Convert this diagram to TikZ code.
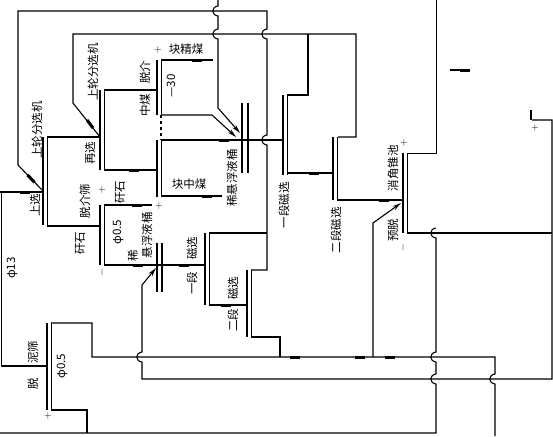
\documentclass[tikz,border=0pt]{standalone}
\usepackage{fontspec}
\newfontfamily\cjk{Noto Sans CJK SC}
\usetikzlibrary{arrows.meta}
% line jumps, bulging to the left
\newcommand\hopdn[2]{-- (#1,#2-5) .. controls (#1-7,#2-4) and (#1-7,#2+4) .. (#1,#2+5)}
\newcommand\hopup[2]{-- (#1,#2+5) .. controls (#1-7,#2+4) and (#1-7,#2-4) .. (#1,#2-5)}
% screen / separator symbol
\newcommand\sieve[3]{\draw[line width=1.7pt] (#1,#2) -- (#1,#3);
  \draw[line width=1pt] (#1+4,#2) -- (#1+4,#3);}
\newcommand\hmark[2]{\draw[line width=3pt,line cap=butt] (#1-5,#2) -- (#1+5,#2);}
\begin{document}
\begin{tikzpicture}[x=1pt,y=-1pt,line width=1.1pt,
  lbl/.style={rotate=90,inner sep=0pt,font=\cjk\fontsize{11.5}{12.5}\selectfont},
  flat/.style={inner sep=0pt,font=\cjk\fontsize{11.5}{12.5}\selectfont},
  sgn/.style={inner sep=0pt,font=\fontsize{10}{12}\selectfont},
  tip/.style={-{Stealth[length=9pt,width=4.5pt]}}]
\useasboundingbox (0,0) rectangle (553,436);

% upper separation
\sieve{43}{137}{225}
\draw (0,192) -- (43,192); \hmark{25}{192}
\draw (1.5,192) -- (1.5,366) -- (47,366);
\draw (251,270) -- (267,270) \hopup{267}{140} \hopup{267}{34} -- (267,11) -- (18,11) -- (18,165) -- (43,191);
\draw[line width=3pt] (27.5,175) -- (34.5,182.3);
\draw (209,233) -- (267,233);

% re-separation
\sieve{100}{90}{170}
\draw (47,137) -- (100,137);
\draw (100,137) -- (73,103) -- (73,34) -- (356,34) -- (356,137) -- (338,137);
\draw[line width=3pt] (87,120) -- (93,128);
\draw (308,34) -- (308,95) -- (287,95);
\draw (104,90) -- (157,90);
\draw (104,170) -- (157,170); \hmark{134}{170}

% middlings screen
\sieve{157}{60}{115}
\draw (161,60) -- (213,60); \hmark{197}{60}
\draw[tip] (161,115) -- (212,115) -- (236,137);
\draw[dashed] (161,115) -- (161,140);
\draw[tip] (218,0) \hopdn{218}{11} \hopdn{218}{34} -- (218,108) -- (240,133);

\sieve{157}{140}{197}
\draw (161,140) -- (283,140); \hmark{224}{140}
\draw (161,196) -- (222,196); \hmark{207}{196}
\draw[line width=1.4pt] (242,103) -- (242,173);
\draw[line width=1.4pt] (248,103) -- (248,173);

% reject screen
\sieve{100}{205}{265}
\draw (47,226) -- (100,226);
\draw (104,205) -- (152,205); \hmark{137}{205}
\draw (104,265) -- (205,265); \hmark{138}{265} \hmark{184}{265}
\draw[line width=1.4pt] (157,243) -- (157,292);
\draw[line width=1.4pt] (162,243) -- (162,292);
\draw[tip] (532,120) -- (552,120) -- (552,379) -- (142,379) \hopup{142}{357} -- (142,285) -- (156,268);

% magnetic
\sieve{205}{233}{305}
\sieve{247}{270}{337}
\draw (209,305) -- (247,305); \hmark{226}{305}
\draw (251,337) -- (280,337) -- (280,357);

% desliming
\sieve{47}{323}{410}
\draw (51,323) -- (92,323) -- (92,357) -- (495,357) \hopdn{495}{379} -- (495,436);
\hmark{295}{357} \hmark{360}{357} \hmark{390}{357}
\draw (51,410) -- (87,410) -- (87,433);
\draw (0,433) -- (436,433) \hopup{436}{379} \hopup{436}{357} \hopup{436}{233};

% right part
\sieve{283}{95}{175}
\draw (287,173) -- (333,173); \hmark{314}{173}
\sieve{333}{137}{200}
\draw (337,200) -- (403,200); \hmark{384}{200}
\sieve{403}{153}{233}
\draw[line width=0.7pt] (407,153) -- (436,153) -- (436,0);
\draw (407,233) -- (552,233);
\draw[tip] (373,357) -- (373,223) -- (401,203);
\draw (450,70) -- (470,70); \hmark{465}{70}
\draw[line width=2.4pt] (531,110) -- (531,120);

% labels
\node[lbl] (lunA) at (37,130) {上轮分选机};
\node[lbl] (upsel) at (35,205) {上选};
\node[lbl] (lunB) at (93,72) {上轮分选机};
\node[lbl] (resel) at (90,153) {再选};
\node[lbl] (rejscr) at (85,201) {脱介筛};
\node[lbl] (rejA) at (80,243) {矸石};
\node[sgn] (plusA) at (102,190) {+};
\node[lbl] (rejB) at (120,192) {矸石};
\node[lbl] (midA) at (145,105) {中煤};
\node[lbl] (midB) at (145,72) {脱介};
\node[sgn] (plusB) at (158,50) {+};
\node[flat] (clean) at (186,49) {块精煤};
\node[lbl] (size) at (171,86) {—30};
\node[flat] (midC) at (189,184) {块中煤};
\node[sgn] (plusC) at (159,206) {+};
\node[lbl] (sumpA) at (232,178) {稀悬浮液桶};
\node[lbl] (apA) at (118,232) {φ0.5};
\node[lbl] (sumpB) at (133,256) {稀};
\node[lbl] (sumpC) at (147,235) {悬浮液桶};
\node[lbl] (apB) at (12,268) {φ13};
\node[lbl] (magA) at (192,248) {磁选};
\node[lbl] (magB) at (192,283) {一段};
\node[lbl] (magC) at (233,288) {磁选};
\node[lbl] (magD) at (233,320) {二段};
\node[lbl] (magE) at (284,205) {一段磁选};
\node[lbl] (magF) at (336,230) {二段磁选};
\node[lbl] (cone) at (393,168) {消角锥池};
\node[sgn] (plusD) at (404,143) {+};
\node[lbl] (pre) at (393,230) {预脱};
\node[lbl] (deslA) at (33,352) {泥筛};
\node[lbl] (deslB) at (33,384) {脱};
\node[lbl] (apC) at (62,366) {φ0.5};
\node[sgn] (plusE) at (48,416) {+};
\node[sgn,rotate=90] (minA) at (102,273) {$-$};
\node[sgn,rotate=90] (minB) at (403,248) {$-$};
\node[sgn] (plusF) at (535,128) {+};
\end{tikzpicture}
\end{document}
